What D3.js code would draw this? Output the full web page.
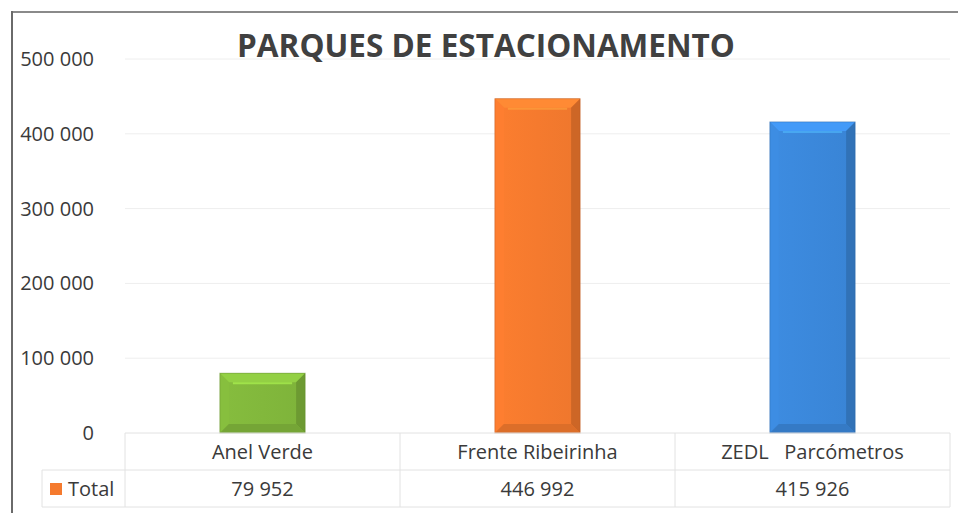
<!DOCTYPE html>
<html>
<head>
<meta charset="utf-8">
<script src="https://cdn.jsdelivr.net/npm/d3@7/dist/d3.min.js"></script>
<style>
  html, body { margin: 0; padding: 0; background: #fff; }
  svg { display: block; }
  text { font-family: "Open Sans", "Noto Sans", sans-serif; }
</style>
</head>
<body>
<svg id="chart" width="959" height="513"></svg>
<script>
const title = "PARQUES DE ESTACIONAMENTO";
const categories = ["Anel Verde", "Frente Ribeirinha", "ZEDL   Parcómetros"];
const values = [79952, 446992, 415926];
const valueLabels = ["79 952", "446 992", "415 926"];
const seriesName = "Total";
const yTicks = [0, 100000, 200000, 300000, 400000, 500000];
const barColors = ["#82b83c", "#f57a2e", "#3b88db"];

const svg = d3.select("#chart");
const W = 959, H = 513;

const x = d3.scaleBand().domain(categories).range([125, 950]).paddingInner(0.69).paddingOuter(0.345);
const y = d3.scaleLinear().domain([0, 500000]).range([433, 59]);
const fmt = v => d3.format(",")(v).replace(/,/g, " ");
const fs = 20;

// frame
svg.append("line").attr("x1", 12).attr("x2", 958).attr("y1", 12).attr("y2", 12).attr("stroke", "#8a8a8a").attr("stroke-width", 2);
svg.append("line").attr("x1", 12).attr("x2", 12).attr("y1", 11).attr("y2", H).attr("stroke", "#6a6a6a").attr("stroke-width", 2);

// gridlines
svg.append("g").selectAll("line").data(yTicks.filter(d => d > 0)).join("line")
  .attr("x1", 125).attr("x2", 950)
  .attr("y1", d => y(d)).attr("y2", d => y(d))
  .attr("stroke", "#eeeeee").attr("stroke-width", 1);

// y axis labels
const yAxis = d3.axisLeft(y).tickValues(yTicks).tickFormat(fmt).tickSize(0).tickPadding(0);
const ga = svg.append("g").attr("transform", "translate(94,0)").call(yAxis);
ga.select(".domain").remove();
ga.selectAll("text").attr("font-size", fs).attr("fill", "#3a3a3a")
  .attr("font-family", '"Open Sans", sans-serif');

// bars with bevel
const defs = svg.append("defs");
const b = 9;
categories.forEach((c, i) => {
  const x0 = x(c), w = x.bandwidth();
  const y0 = y(values[i]), y1 = y(0);
  const col = d3.color(barColors[i]);
  const g = svg.append("g");
  const gid = "grad" + i;
  const lg = defs.append("linearGradient").attr("id", gid).attr("x1", 0).attr("x2", 1).attr("y1", 0).attr("y2", 0);
  lg.append("stop").attr("offset", 0).attr("stop-color", col.brighter(0.08));
  lg.append("stop").attr("offset", 0.5).attr("stop-color", col);
  lg.append("stop").attr("offset", 1).attr("stop-color", col.darker(0.08));
  g.append("rect").attr("x", x0).attr("y", y0).attr("width", w).attr("height", y1 - y0).attr("fill", `url(#${gid})`);
  // top bevel
  g.append("polygon").attr("points", [[x0, y0], [x0 + w, y0], [x0 + w - b, y0 + b], [x0 + b, y0 + b]].join(" "))
    .attr("fill", col.brighter(0.35));
  // left bevel
  g.append("polygon").attr("points", [[x0, y0], [x0 + b, y0 + b], [x0 + b, y1 - b], [x0, y1]].join(" "))
    .attr("fill", col.brighter(0.1));
  // right bevel
  g.append("polygon").attr("points", [[x0 + w, y0], [x0 + w, y1], [x0 + w - b, y1 - b], [x0 + w - b, y0 + b]].join(" "))
    .attr("fill", col.darker(0.5));
  // bottom bevel
  g.append("polygon").attr("points", [[x0, y1], [x0 + b, y1 - b], [x0 + w - b, y1 - b], [x0 + w, y1]].join(" "))
    .attr("fill", col.darker(0.3));
  // highlight line near top
  g.append("line").attr("x1", x0 + b + 4).attr("x2", x0 + w - b - 4).attr("y1", y0 + b + 1).attr("y2", y0 + b + 1)
    .attr("stroke", col.brighter(0.9)).attr("stroke-width", 2).attr("opacity", 0.6);
  // outer edge
  g.append("rect").attr("x", x0).attr("y", y0).attr("width", w).attr("height", y1 - y0)
    .attr("fill", "none").attr("stroke", col.darker(0.8)).attr("stroke-width", 1).attr("opacity", 0.45);
});

// data table
const tc = "#e2e2e2";
const rowTop = 433, rowMid = 470, rowBot = 507, legL = 42;
const tbl = svg.append("g").attr("stroke", tc).attr("stroke-width", 1);
tbl.append("line").attr("x1", 125).attr("x2", 950).attr("y1", rowTop).attr("y2", rowTop);
tbl.append("line").attr("x1", legL).attr("x2", 950).attr("y1", rowMid).attr("y2", rowMid);
tbl.append("line").attr("x1", legL).attr("x2", 950).attr("y1", rowBot).attr("y2", rowBot);
tbl.append("line").attr("x1", legL).attr("x2", legL).attr("y1", rowMid).attr("y2", rowBot);
const colEdges = [125].concat(categories.map(c => x(c) - x.step() * x.paddingInner() / 2 + x.step()));
colEdges.forEach(cx => {
  tbl.append("line").attr("x1", cx).attr("x2", cx).attr("y1", rowTop).attr("y2", rowBot);
});

svg.append("g").selectAll("text").data(categories).join("text")
  .attr("x", d => x(d) + x.bandwidth() / 2).attr("y", (rowTop + rowMid) / 2 + 7)
  .attr("text-anchor", "middle").attr("font-size", fs).attr("fill", "#3a3a3a")
  .attr("xml:space", "preserve").style("white-space", "pre")
  .text(d => d);

svg.append("g").selectAll("text").data(valueLabels).join("text")
  .attr("x", (d, i) => x(categories[i]) + x.bandwidth() / 2).attr("y", (rowMid + rowBot) / 2 + 7)
  .attr("text-anchor", "middle").attr("font-size", fs).attr("fill", "#3a3a3a")
  .text(d => d);

// legend key
svg.append("rect").attr("x", 50).attr("y", 483).attr("width", 12).attr("height", 12).attr("fill", "#f57a2e");
svg.append("text").attr("x", 68).attr("y", 496).attr("font-size", fs).attr("fill", "#3a3a3a").text(seriesName);

// title
const t = svg.append("text").attr("x", 486).attr("y", 57).attr("text-anchor", "middle")
  .attr("font-size", 30).attr("font-weight", "bold").attr("fill", "#404040").text(title);
const tw = t.node().getComputedTextLength();
t.attr("font-size", 30 * 498 / tw);
</script>
</body>
</html>
